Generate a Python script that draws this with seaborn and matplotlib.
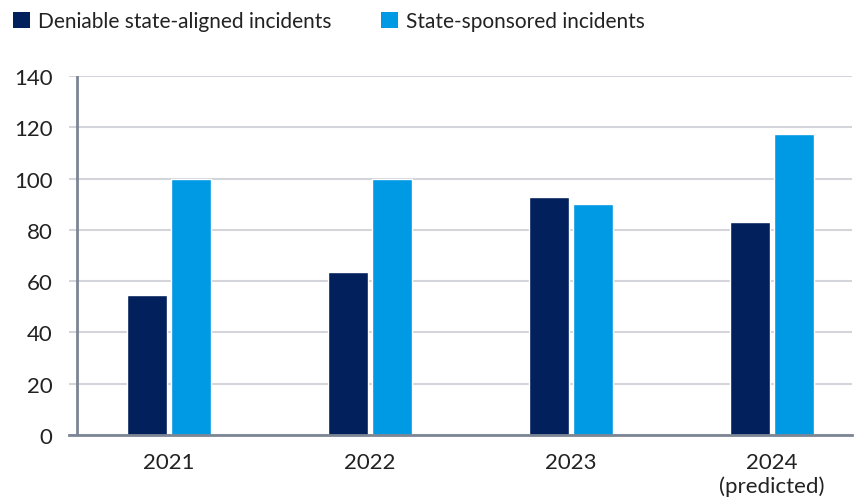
import matplotlib
matplotlib.use("Agg")
import matplotlib.pyplot as plt
import seaborn as sns
import pandas as pd
from matplotlib.patches import Patch

years = ["2021", "2022", "2023", "2024\n(predicted)"]
deniable = [54.5, 63.5, 92.8, 83.1]
sponsored = [100, 100, 90.1, 117.4]
series_names = ["Deniable state-aligned incidents", "State-sponsored incidents"]
colors = ["#02205B", "#0099E4"]

df = pd.DataFrame({
    "year": years * 2,
    "value": deniable + sponsored,
    "series": [series_names[0]] * 4 + [series_names[1]] * 4,
})

sns.set_theme(style="white")
plt.rcParams["font.family"] = ["Lato", "DejaVu Sans"]

W, H = 856, 502
fig = plt.figure(figsize=(W / 100, H / 100), dpi=100)
ax = fig.add_axes([69 / W, (H - 436) / H, 783 / W, 359 / H])

sns.barplot(data=df, x="year", y="value", hue="series", palette=colors,
            width=0.428, gap=0.07, ax=ax, legend=False, saturation=1)

ax.set_xlim(-0.4975, 3.398)
ax.set_ylim(0, 140)
ax.set_yticks(range(0, 141, 20))
ax.yaxis.grid(True, color="#D3D5DB", linewidth=1.5)
ax.set_axisbelow(True)
ax.set_xlabel("")
ax.set_ylabel("")

for s in ["top", "right", "left"]:
    ax.spines[s].set_visible(False)
ax.spines["bottom"].set_color("#7B8593")
ax.spines["bottom"].set_linewidth(2)
ax.axvline(-0.458, color="#7B8593", linewidth=2, zorder=3)

ax.tick_params(axis="y", length=0, pad=12, labelsize=16, labelcolor="#222222")
ax.tick_params(axis="x", length=7, width=1.2, color="#7B8593", pad=5,
               labelsize=16, labelcolor="#222222")

handles = [Patch(facecolor=c, edgecolor="none") for c in colors]
fig.legend(handles, series_names, loc="upper left",
           bbox_to_anchor=(13 / W, 1 - 12 / H), ncol=2, frameon=False,
           fontsize=15, handlelength=0.82, handleheight=0.82,
           handletextpad=0.4, columnspacing=2.35, borderpad=0, borderaxespad=0,
           labelcolor="#222222")

fig.savefig("out.png", dpi=100)
